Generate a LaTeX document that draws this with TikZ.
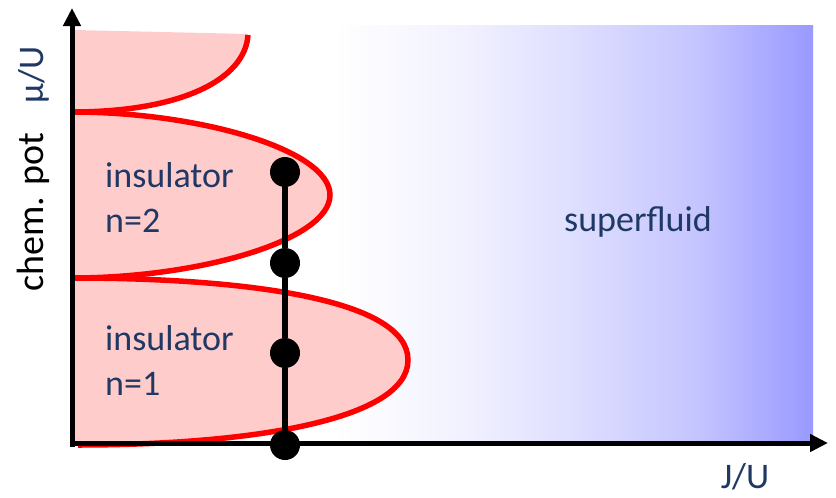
\documentclass[tikz,border=0pt]{standalone}
\usepackage{fontspec}
\setmainfont{Carlito}
\definecolor{lobepink}{RGB}{255, 204, 204}
\definecolor{lobered}{RGB}{255, 0, 0}
\definecolor{textnavy}{RGB}{31, 56, 100}
\definecolor{sfblue}{RGB}{153, 153, 255}
\usetikzlibrary{arrows.meta, positioning}
\pgfdeclarehorizontalshading{sfshade}{100bp}{color(0bp)=(white); color(25bp)=(white); color(37.5bp)=(sfblue!12!white); color(50bp)=(sfblue!32!white); color(62.5bp)=(sfblue!56!white); color(75bp)=(sfblue); color(100bp)=(sfblue)}
\tikzset{
	lobefill/.style={fill=lobepink, draw=none},
	lobeline/.style={draw=lobered, line width=5.5pt},
	axis/.style={-{Triangle[length=18pt, width=17pt]}, line width=5pt, draw=black},
	rung/.style={line width=6pt, draw=black},
	site/.style={circle, fill=black, inner sep=0pt, minimum size=30pt},
	phase/.style={font=\fontsize{36}{40}\selectfont, text=textnavy, inner sep=0pt},
	axlabel/.style={font=\fontsize{38}{42}\selectfont, inner sep=0pt},
}

\begin{document}
\begin{tikzpicture}[x=1pt, y=1pt]
		\useasboundingbox (0,0) rectangle (836,-498);
		% superfluid background
		\shade[shading=sfshade] (334,-25) rectangle (813,-443);
		% Mott lobes
		\fill[lobefill] (75,-30) -- (248,-34) .. controls (245,-80) and (180,-112) .. (72,-112) -- cycle;
		\fill[lobefill] (72,-112) .. controls (200,-112) and (330,-150) .. (330,-195) .. controls (330,-240) and (200,-278) .. (72,-278) -- cycle;
		\fill[lobefill] (72,-278) .. controls (250,-278) and (408,-300) .. (408,-360) .. controls (408,-420) and (250,-445) .. (72,-445) -- cycle;
		\draw[lobeline] (248,-35) .. controls (245,-80) and (180,-112) .. (72,-112);
		\draw[lobeline] (72,-112) .. controls (200,-112) and (330,-150) .. (330,-195) .. controls (330,-240) and (200,-278) .. (72,-278);
		\draw[lobeline] (72,-278) .. controls (250,-278) and (408,-300) .. (408,-360) .. controls (408,-420) and (250,-445) .. (78,-445);
		% axes
		\coordinate (origin) at (72,-443);
		\coordinate (ytip) at (72,-8);
		\coordinate (xtip) at (828,-443);
		\draw[axis] (72,-447) -- (ytip);
		\draw[axis] (70,-443) -- (xtip);
		% sites
		\node[site] (s1) at (285,-172) {};
		\node[site] (s2) at (285,-263) {};
		\node[site] (s3) at (285,-353) {};
		\node[site] (s4) at (285,-445) {};
		\draw[rung] (s1) -- (s2);
		\draw[rung] (s2) -- (s3);
		\draw[rung] (s3) -- (s4);
		% labels
		\node[phase, anchor=base west] (ins2) at (105,-187) {insulator};
		\node[phase, anchor=base west] (n2) at (105,-232) {n=2};
		\node[phase, anchor=base west] (ins1) at (105,-350) {insulator};
		\node[phase, anchor=base west] (n1) at (105,-395) {n=1};
		\node[phase, anchor=base] (sf) at (638,-231) {superfluid};
		\node[phase, anchor=base] (jlabel) at (745,-488) {J/U};
		\node[axlabel, rotate=90, anchor=base] (chem) at (43,-212) {chem. pot};
		\node[phase, rotate=90, anchor=base] (mu) at (43,-75) {μ/U};
	\end{tikzpicture}
\end{document}
